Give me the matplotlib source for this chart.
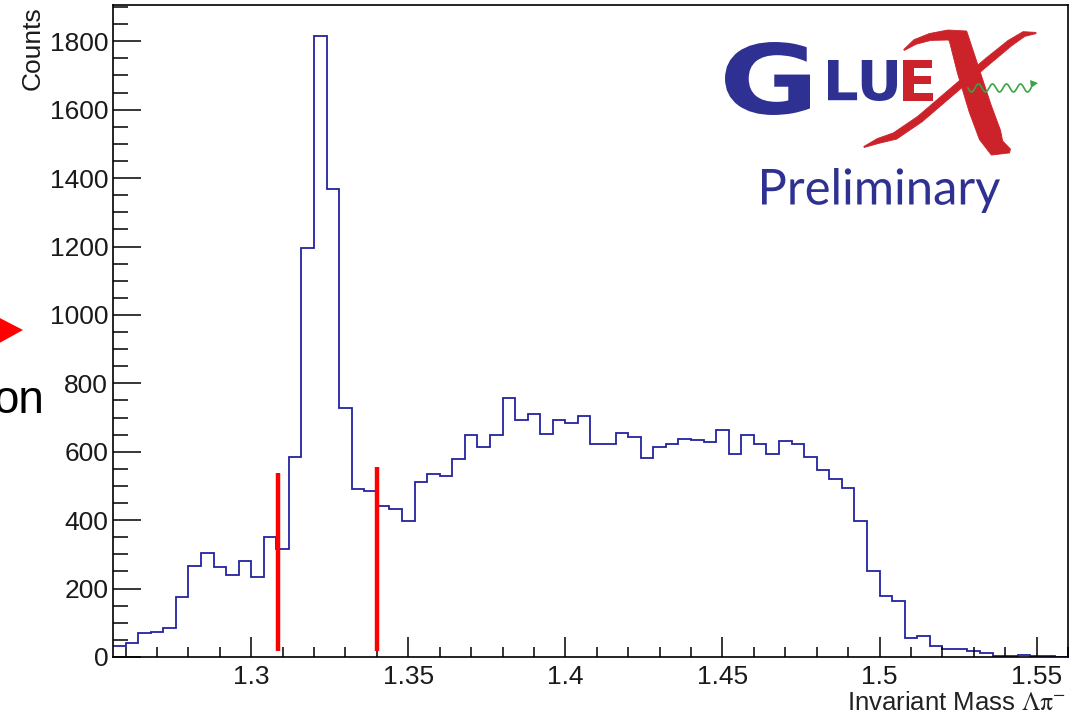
import numpy as np
import matplotlib
matplotlib.use("Agg")
import matplotlib.pyplot as plt
from matplotlib.textpath import TextPath
from matplotlib.patches import PathPatch, Polygon
from matplotlib.font_manager import FontProperties
from matplotlib.transforms import Affine2D

plt.rcParams['font.family'] = ['Liberation Sans', 'DejaVu Sans']
plt.rcParams['mathtext.fontset'] = 'stix'

# Lambda pi- invariant mass, 76 bins of 0.004 starting at 1.256
bin_lo = 1.256
bin_w = 0.004
counts = [32, 41, 70, 72, 86, 175, 266, 305, 263, 240,
          280, 235, 352, 315, 585, 1195, 1815, 1369, 727, 491,
          486, 441, 433, 397, 513, 534, 529, 579, 648, 614,
          648, 758, 694, 709, 653, 694, 685, 704, 624, 624,
          655, 643, 583, 614, 624, 638, 633, 629, 664, 592,
          649, 624, 592, 630, 624, 584, 548, 519, 494, 399,
          252, 179, 164, 57, 62, 32, 24, 23, 18, 13,
          2, 2, 6, 2, 2, 0]

# selection cut lines
cut_x = [1.3086, 1.3401]
cut_top = [539, 555]
cut_bottom = 19

xticks = [1.3, 1.35, 1.4, 1.45, 1.5, 1.55]
xticklabels = ["1.3", "1.35", "1.4", "1.45", "1.5", "1.55"]
yticks = [0, 200, 400, 600, 800, 1000, 1200, 1400, 1600, 1800]

W, H = 1089, 718
fig = plt.figure(figsize=(W / 100, H / 100), dpi=100)
ax = fig.add_axes([113 / W, 1 - 657 / H, (1068 - 113) / W, (657 - 5) / H])

edges = bin_lo + bin_w * np.arange(len(counts) + 1)
ax.stairs(counts, edges, color='#2323a0', lw=1.3, baseline=None)

for cx, ct in zip(cut_x, cut_top):
    ax.plot([cx, cx], [cut_bottom, ct], color='#ff0000', lw=3.2, solid_capstyle='butt')

ax.set_xlim(edges[0], 1.56)
ax.set_ylim(0, 1906)
ax.set_xticks(xticks)
ax.set_xticklabels(xticklabels)
ax.set_xticks(np.arange(1.26, 1.56, 0.01), minor=True)
ax.set_yticks(yticks)
ax.set_yticks(np.arange(0, 1906, 50), minor=True)
ax.tick_params(direction='in', which='both', width=1.1, labelsize=19, labelcolor='#1a1a1a')
ax.tick_params(axis='x', which='major', length=14.5, pad=6)
ax.tick_params(axis='x', which='minor', length=7.2)
ax.tick_params(axis='y', which='major', length=20, pad=3.5)
ax.tick_params(axis='y', which='minor', length=11)
for sp in ax.spines.values():
    sp.set_linewidth(1.2)

fig.text(33 / W, 1 - 6 / H, "Counts", rotation=90, ha='center', va='top', fontsize=19,
         color='#1a1a1a')
fig.text(1066 / W, 1 - 703 / H, r"Invariant Mass $\mathrm{\Lambda\pi}^{-}$", ha='right',
         va='center', fontsize=18.5, color='#222222')

# overlay in pixel coordinates for logo and slide fragments
ov = fig.add_axes([0, 0, 1, 1])
ov.set_xlim(0, W)
ov.set_ylim(H, 0)
ov.axis('off')


def logo_text(s, box, color, **font):
    x0, y0, x1, y1 = box
    tp = TextPath((0, 0), s, size=100, prop=FontProperties(**font))
    bb = tp.get_extents()
    tr = (Affine2D().translate(-bb.x0, -bb.y1)
          .scale((x1 - x0) / bb.width, -(y1 - y0) / bb.height)
          .translate(x0, y0))
    ov.add_patch(PathPatch(tr.transform_path(tp), fc=color, ec='none', zorder=3))


def brush(pts, half, color):
    # filled stroke along a centre line with varying half width
    p = np.array(pts, dtype=float)
    d = np.gradient(p, axis=0)
    n = np.column_stack([-d[:, 1], d[:, 0]])
    n /= np.hypot(n[:, 0], n[:, 1])[:, None]
    hw = np.array(half, dtype=float)[:, None]
    outline = np.vstack([p + n * hw, (p - n * hw)[::-1]])
    ov.add_patch(Polygon(outline, closed=True, fc=color, ec=color, lw=0.6, zorder=2))


blue = '#2e3192'
red = '#cc2229'
green = '#3aa345'

# brush-style red X
brush([(904, 50), (915, 42), (930, 37), (948, 35), (958, 36), (968, 70), (980, 108),
       (990, 135), (997, 148), (1010, 151)],
      [0.5, 2.5, 3.5, 5, 10, 11, 11.5, 11.5, 9, 2], red)
brush([(864, 147), (878, 141), (895, 136), (920, 119), (955, 89), (988, 61), (1010, 43),
       (1024, 34), (1036, 33)],
      [0.5, 2.5, 3.5, 3.5, 3.5, 3.5, 3.2, 2.5, 0.6], red)

logo_text("G", (725, 42, 810, 115), blue, family='DejaVu Sans', weight='bold')
logo_text("LU", (828, 60, 897, 101), blue, family='DejaVu Sans', weight='bold')
logo_text("E", (903, 60, 933, 101), red, family='DejaVu Sans', weight='bold')
wx = np.linspace(968, 1031, 200)
ov.plot(wx, 88 + 4 * np.sin((wx - 968) / 63 * 2 * np.pi * 4.5), color=green, lw=1.2)
ov.add_patch(Polygon([(1030, 80), (1038, 83), (1031, 88)], closed=True, fc=green, ec='none'))
logo_text("Preliminary", (762, 168, 1000, 213), blue, family='Lato')

# cut-off slide pieces at the left edge
ov.add_patch(Polygon([(-6, 315), (23, 330), (-6, 346)], closed=True, fc='#ff0000', ec='none'))
ov.text(44, 413, "on", ha='right', va='baseline', fontsize=33, color='black')

fig.savefig("out.png", dpi=100)
